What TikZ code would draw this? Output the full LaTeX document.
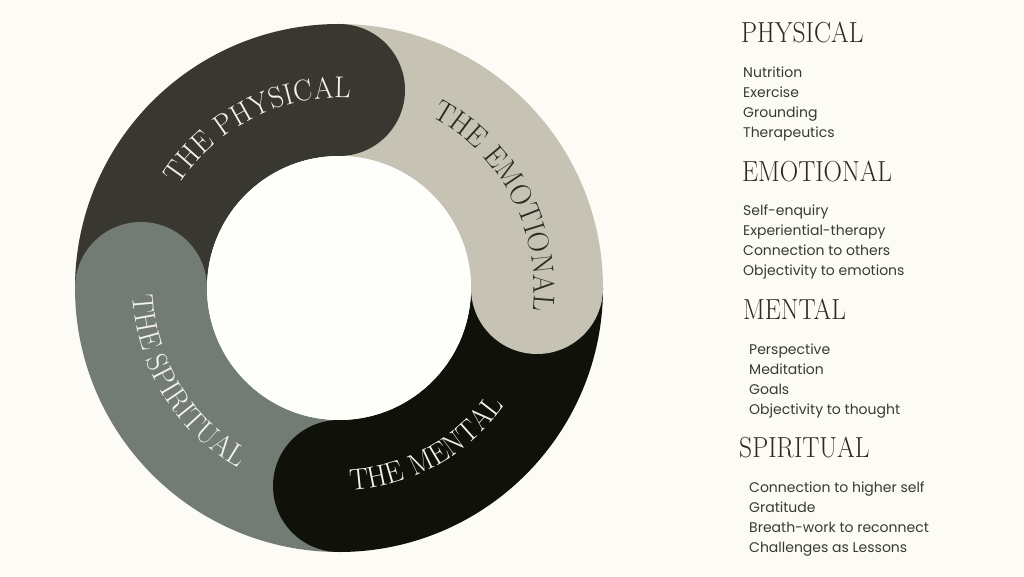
\documentclass[tikz,border=0pt]{standalone}
\usepackage{fontspec}
\setmainfont{Poppins}
\newfontfamily\headfont[FakeStretch=0.88]{lmroman17-regular.otf}
\newfontfamily\ringface[FakeStretch=0.95]{lmroman17-regular.otf}
\usetikzlibrary{positioning,
                decorations.text}
\definecolor{bgcol}{HTML}{FCFBF5}
\definecolor{innercol}{HTML}{FEFEFB}
\definecolor{physcol}{HTML}{383830}
\definecolor{emocol}{HTML}{C7C3B4}
\definecolor{mentcol}{HTML}{10120A}
\definecolor{spircol}{HTML}{737C74}
\definecolor{headcol}{HTML}{2B2B24}
\definecolor{itemcol}{HTML}{3A3A34}
\definecolor{ringlight}{HTML}{F4F3EA}
\newcommand{\ringfont}{\ringface\fontsize{30}{30}\selectfont}
\tikzset{heading/.style =
   {anchor=base west,
    inner sep=0pt,
    text=headcol,
    font=\headfont\fontsize{29}{29}\selectfont}}
\tikzset{item/.style =
   {anchor=base west,
    inner sep=0pt,
    text=itemcol,
    font=\fontsize{14}{14}\selectfont}}
\tikzset{ring-label/.style =
   {decorate,
    decoration={text along path,
                text align=center}}}

\begin{document}
\begin{tikzpicture}[x=1pt, y=1pt]

    \fill[bgcol] (0,0) rectangle (1024,576);
    \useasboundingbox (0,0) rectangle (1024,576);

    \begin{scope}[shift={(339,288)}]
        % ring sectors
        \fill[physcol] (180:264) arc[start angle=180, end angle=90, radius=264]
            -- (90:132) arc[start angle=90, end angle=180, radius=132] -- cycle;
        \fill[emocol] (90:264) arc[start angle=90, end angle=0, radius=264]
            -- (0:132) arc[start angle=0, end angle=90, radius=132] -- cycle;
        \fill[mentcol] (0:264) arc[start angle=0, end angle=-90, radius=264]
            -- (-90:132) arc[start angle=-90, end angle=0, radius=132] -- cycle;
        \fill[spircol] (270:264) arc[start angle=270, end angle=180, radius=264]
            -- (180:132) arc[start angle=180, end angle=270, radius=132] -- cycle;
        \fill[innercol] (0,0) circle[radius=132];

        % round heads
        \fill[physcol] (90:198) circle[radius=66];
        \fill[emocol] (0:198) circle[radius=66];
        \fill[mentcol] (270:198) circle[radius=66];
        \fill[spircol] (180:198) circle[radius=66];

        % labels on the ring
        \path[ring-label,
              decoration={text={|\ringfont|THE PHYSICAL}, text color=ringlight}]
            (152:190) arc[start angle=152, end angle=82, radius=190];
        \path[ring-label,
              decoration={text={|\ringfont|THE EMOTIONAL}, text color=headcol}]
            (64:195) arc[start angle=64, end angle=-9, radius=195];
        \path[ring-label,
              decoration={text={|\ringfont|THE MENTAL}, text color=ringlight}]
            (264:203) arc[start angle=264, end angle=334, radius=203];
        \path[ring-label,
              decoration={text={|\ringfont|THE SPIRITUAL}, text color=ringlight}]
            (176:206) arc[start angle=176, end angle=247, radius=206];
    \end{scope}

    % lists on the right
    \node[heading] (physical) at (741,533) {PHYSICAL};
    \node[below=35pt of physical.base west, xshift=2pt, item] (nutrition) {Nutrition};
    \node[below=20pt of nutrition.base west, item] (exercise) {Exercise};
    \node[below=20pt of exercise.base west, item] (grounding) {Grounding};
    \node[below=20pt of grounding.base west, item] (therapeutics) {Therapeutics};

    \node[below=44pt of therapeutics.base west, xshift=-1pt, heading] (emotional) {EMOTIONAL};
    \node[below=34pt of emotional.base west, xshift=1pt, item] (selfenquiry) {Self-enquiry};
    \node[below=20pt of selfenquiry.base west, item] (experiential) {Experiential-therapy};
    \node[below=20pt of experiential.base west, item] (connection) {Connection to others};
    \node[below=20pt of connection.base west, item] (objemotions) {Objectivity to emotions};

    \node[below=44pt of objemotions.base west, heading] (mental) {MENTAL};
    \node[below=34pt of mental.base west, xshift=6pt, item] (perspective) {Perspective};
    \node[below=20pt of perspective.base west, item] (meditation) {Meditation};
    \node[below=20pt of meditation.base west, item] (goals) {Goals};
    \node[below=20pt of goals.base west, item] (objthought) {Objectivity to thought};

    \node[below=43pt of objthought.base west, xshift=-10pt, heading] (spiritual) {SPIRITUAL};
    \node[below=35pt of spiritual.base west, xshift=10pt, item] (higherself) {Connection to higher self};
    \node[below=20pt of higherself.base west, item] (gratitude) {Gratitude};
    \node[below=20pt of gratitude.base west, item] (breathwork) {Breath-work to reconnect};
    \node[below=20pt of breathwork.base west, item] (challenges) {Challenges as Lessons};

\end{tikzpicture}
\end{document}
